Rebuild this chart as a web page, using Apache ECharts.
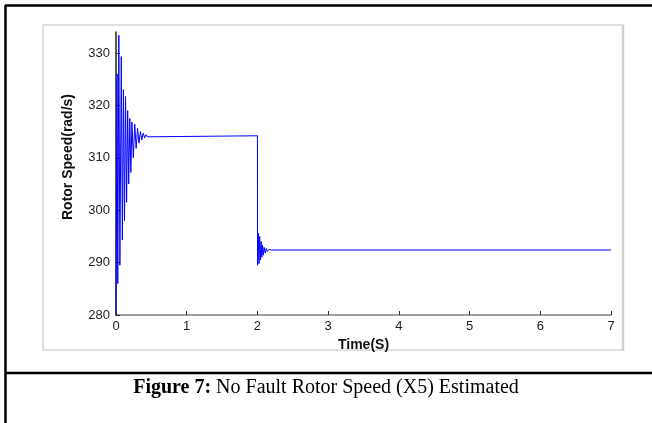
<!DOCTYPE html>
<html lang="en">
<head>
    <meta charset="utf-8">
    <title>Rotor Speed</title>
    <script src="https://cdn.jsdelivr.net/npm/echarts@6/dist/echarts.min.js"></script>
    <style>
        html, body { margin: 0; padding: 0; background: #fff; }
        #main { width: 652px; height: 423px; }
    </style>
</head>
<body>
<div id="main"></div>
<script type="text/javascript">
// start-up transient (time in s, speed in rad/s)
var startTime = [0.000, 0.015, 0.025, 0.040, 0.055, 0.075, 0.090, 0.105, 0.120, 0.135,
                 0.150, 0.165, 0.180, 0.195, 0.210, 0.225, 0.245, 0.265, 0.285, 0.305,
                 0.325, 0.345, 0.365, 0.385, 0.405, 0.425, 0.445, 0.470, 2.000];
var startSpeed = [280.0, 326.0, 286.0, 333.4, 289.5, 329.3, 294.3, 323.0, 298.0, 321.7,
                  301.5, 319.0, 305.0, 317.5, 307.2, 316.8, 310.0, 316.4, 311.8, 315.6,
                  312.8, 315.0, 313.4, 314.7, 313.8, 314.4, 314.0, 314.2, 314.2];
// load step at t = 2 s
var stepTime = [2.002, 2.012, 2.022, 2.032, 2.042, 2.052, 2.062, 2.072, 2.082, 2.095,
                2.110, 2.125, 2.140, 2.160, 2.180, 2.200, 7.000];
var stepSpeed = [289.5, 295.6, 289.8, 295.0, 290.5, 294.0, 291.0, 293.3, 291.4, 292.9,
                 291.8, 292.7, 292.1, 292.5, 292.3, 292.4, 292.4];
var yTicks = [280, 290, 300, 310, 320, 330];
var xTicks = [0, 1, 2, 3, 4, 5, 6, 7];

var seriesData = [];
for (var i = 0; i < startTime.length; i++) {
    seriesData.push([startTime[i], startSpeed[i]]);
}
for (var j = 0; j < stepTime.length; j++) {
    seriesData.push([stepTime[j], stepSpeed[j]]);
}

var myChart = echarts.init(document.getElementById('main'), null, { renderer: 'canvas' });

var option = {
    animation: false,
    backgroundColor: '#fff',
    grid: { left: 116, top: 32, right: 41, bottom: 108 },
    xAxis: {
        type: 'value',
        min: 0,
        max: 7,
        interval: 1,
        name: 'Time(S)',
        nameLocation: 'middle',
        nameGap: 19,
        nameTextStyle: { fontFamily: 'Liberation Sans', fontWeight: 'bold', fontSize: 14, color: '#111' },
        axisLine: { lineStyle: { color: '#808080', width: 1.5 } },
        axisTick: { inside: true, length: 4, lineStyle: { color: '#333' }, customValues: xTicks },
        axisLabel: { margin: 5, fontFamily: 'Liberation Sans', fontSize: 13, color: '#222', customValues: xTicks },
        splitLine: { show: false }
    },
    yAxis: {
        type: 'value',
        min: 280,
        max: 334,
        axisLine: { show: true, lineStyle: { color: '#222', width: 1.5 } },
        axisTick: { show: true, inside: true, length: 4, lineStyle: { color: '#222' }, customValues: yTicks },
        axisLabel: { margin: 6, fontFamily: 'Liberation Sans', fontSize: 13, color: '#222', customValues: yTicks },
        splitLine: { show: false }
    },
    graphic: [
        // light frame round the plot
        { type: 'rect', shape: { x: 43, y: 25, width: 580, height: 325 }, style: { fill: null, stroke: '#d6d6d6', lineWidth: 1.5 }, z: -1 },
        { type: 'line', shape: { x1: 623, y1: 25, x2: 623, y2: 351 }, style: { stroke: '#d0d0d0', lineWidth: 2.5 }, z: -1 },
        // outer figure box
        { type: 'line', shape: { x1: 5, y1: 5.5, x2: 652, y2: 5.5 }, style: { stroke: '#000', lineWidth: 2.5 } },
        { type: 'line', shape: { x1: 5.5, y1: 5, x2: 5.5, y2: 423 }, style: { stroke: '#000', lineWidth: 2.5 } },
        { type: 'line', shape: { x1: 5, y1: 373, x2: 652, y2: 373 }, style: { stroke: '#000', lineWidth: 2.5 } },
        // y axis title
        {
            type: 'text', x: 68, y: 157, rotation: Math.PI / 2,
            style: {
                text: 'Rotor Speed(rad/s)', align: 'center', verticalAlign: 'middle',
                font: 'bold 14px "Liberation Sans"', fill: '#111'
            }
        },
        // caption
        {
            type: 'text', x: 326, y: 388,
            style: {
                text: '{b|Figure 7:} No Fault Rotor Speed (X5) Estimated',
                align: 'center', verticalAlign: 'middle',
                fontFamily: 'Liberation Serif', fontSize: 20, fill: '#000',
                rich: { b: { fontFamily: 'Liberation Serif', fontSize: 20, fontWeight: 'bold', fill: '#000' } }
            }
        }
    ],
    series: [{
        type: 'line',
        data: seriesData,
        showSymbol: false,
        lineStyle: { color: '#0000ff', width: 1 },
        clip: true
    }]
};

myChart.setOption(option);
</script>
</body>
</html>
